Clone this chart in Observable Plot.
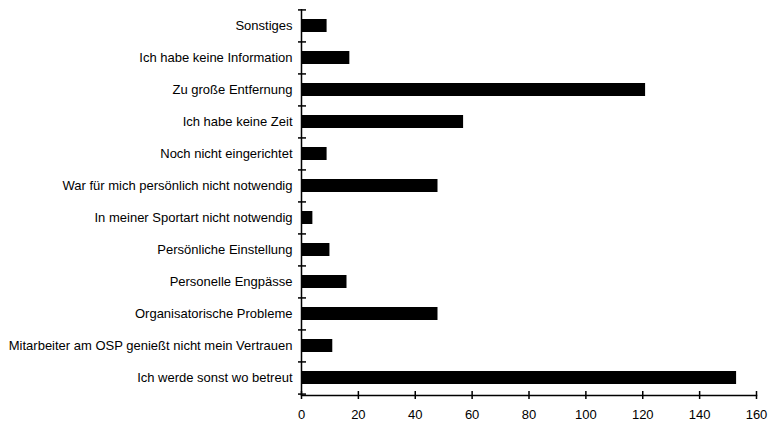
<!DOCTYPE html>
<html>
<head>
<meta charset="utf-8">
<script src="https://cdn.jsdelivr.net/npm/d3@7"></script>
<script src="https://cdn.jsdelivr.net/npm/@observablehq/plot@0.6"></script>
<style>
  html, body { margin: 0; padding: 0; background: #fff; }
</style>
</head>
<body>
<div id="chart"></div>
<script>
const categories = [
  "Sonstiges",
  "Ich habe keine Information",
  "Zu große Entfernung",
  "Ich habe keine Zeit",
  "Noch nicht eingerichtet",
  "War für mich persönlich nicht notwendig",
  "In meiner Sportart nicht notwendig",
  "Persönliche Einstellung",
  "Personelle Engpässe",
  "Organisatorische Probleme",
  "Mitarbeiter am OSP genießt nicht mein Vertrauen",
  "Ich werde sonst wo betreut"
];
const values = [9, 17, 121, 57, 9, 48, 4, 10, 16, 48, 11, 153];
const xTicks = [0, 20, 40, 60, 80, 100, 120, 140, 160];

const data = categories.map((c, i) => ({label: c, value: values[i]}));

const W = 776, H = 422, mT = 9, mB = 27, mL = 301, mR = 20;
const step = (H - mT - mB) / categories.length;

const chart = Plot.plot({
  width: W,
  height: H,
  marginLeft: mL,
  marginRight: mR,
  marginTop: mT,
  marginBottom: mB,
  style: {fontFamily: "'Liberation Sans', Arial, sans-serif", fontSize: "13px", color: "#000", background: "#fff"},
  x: {domain: [0, 160]},
  y: {domain: categories, paddingInner: 0.59, paddingOuter: 0.295},
  marks: [
    Plot.barX(data, {x: "value", y: "label", fill: "black"}),
    Plot.ruleX([0], {stroke: "black", strokeWidth: 1.5}),
    Plot.frame({anchor: "bottom", stroke: "black", strokeWidth: 1.5}),
    Plot.axisX({ticks: xTicks, tickSize: 8, dy: -4, tickPadding: 10, strokeWidth: 1.5, label: null, tickFormat: d => String(d), fill: "#000"}),
    Plot.axisY({tickSize: 0, tickPadding: 9, label: null, fill: "#000"}),
    Plot.axisY({tickSize: 8, dx: 5, dy: -step / 2, strokeWidth: 1.5, label: null, tickFormat: () => ""}),
    Plot.axisY({ticks: [categories[categories.length - 1]], tickSize: 8, dx: 5, dy: step / 2, strokeWidth: 1.5, label: null, tickFormat: () => ""})
  ]
});
document.getElementById("chart").appendChild(chart);
</script>
</body>
</html>
